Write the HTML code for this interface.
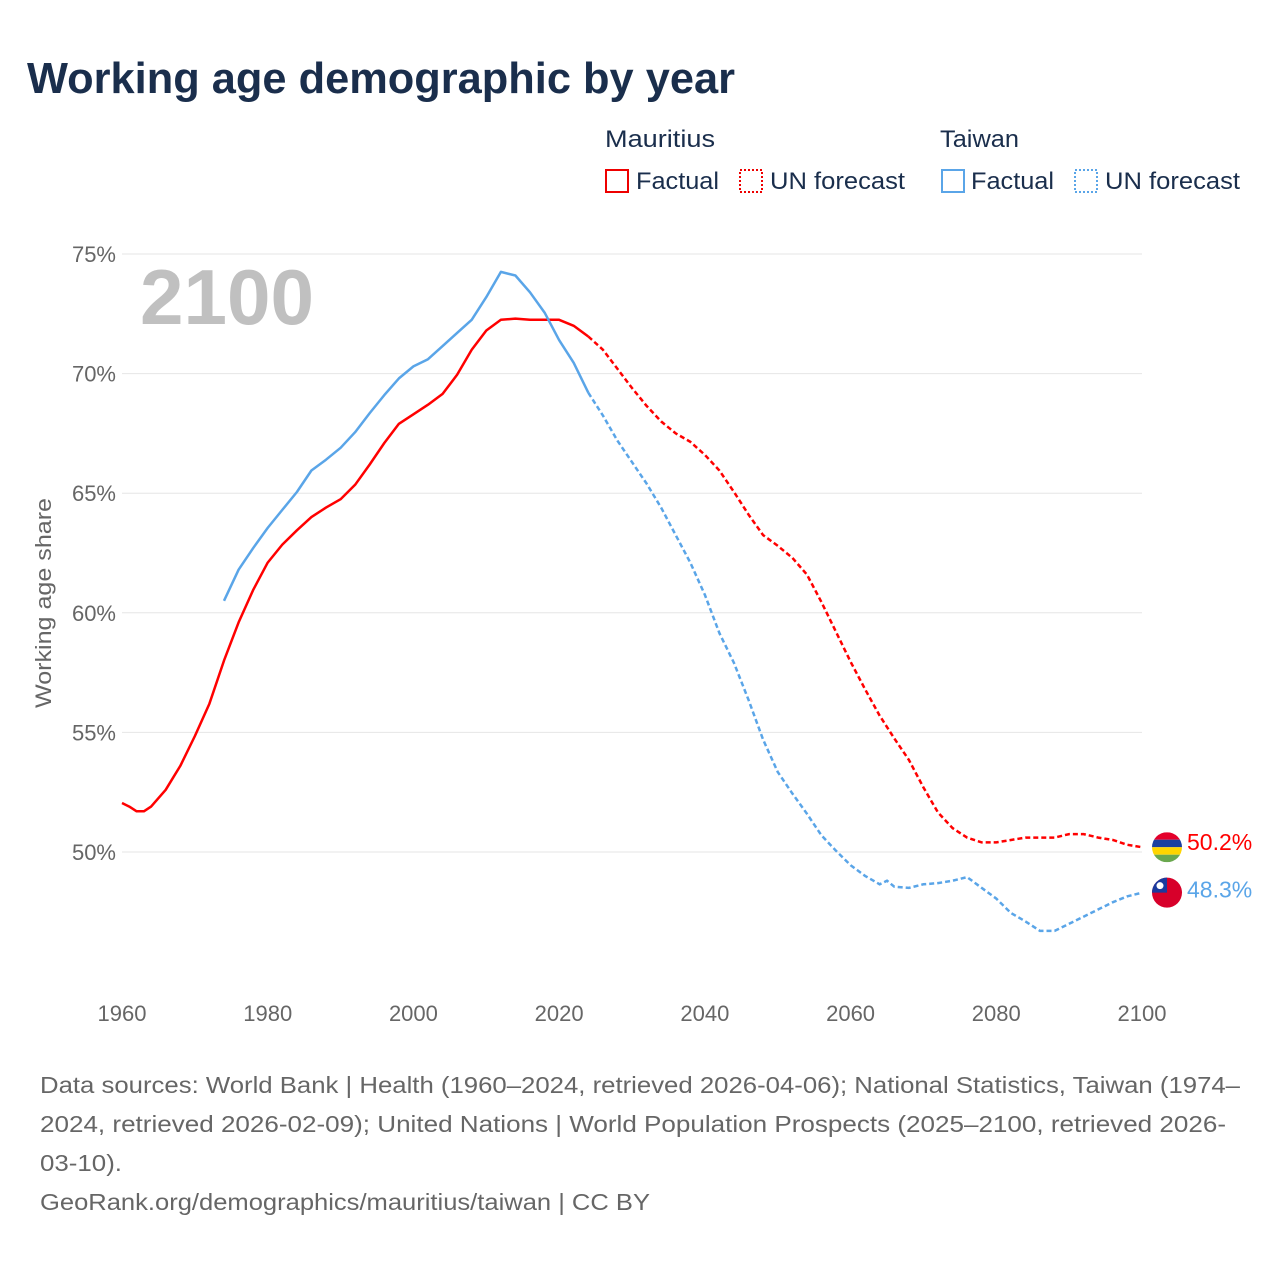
<!DOCTYPE html>
<html><head><meta charset="utf-8">
<style>
body{margin:0;background:#fff;width:1280px;height:1280px;overflow:hidden;font-family:"Liberation Sans",sans-serif;}
svg text{font-family:"Liberation Sans",sans-serif;}
</style></head>
<body>
<svg id="chart" width="1280" height="1280">
<text x="27" y="93" font-size="44" font-weight="bold" fill="#1a2e4c" textLength="708" lengthAdjust="spacingAndGlyphs">Working age demographic by year</text>
<g>
<text x="605" y="147" font-size="24" fill="#1a2e4c" textLength="110" lengthAdjust="spacingAndGlyphs">Mauritius</text>
<text x="940" y="147" font-size="24" fill="#1a2e4c" textLength="79" lengthAdjust="spacingAndGlyphs">Taiwan</text>
<rect x="606" y="170" width="22" height="22" fill="none" stroke="#e00" stroke-width="2"/>
<text x="636" y="189" font-size="24" fill="#1a2e4c" textLength="83" lengthAdjust="spacingAndGlyphs">Factual</text>
<rect x="740" y="170" width="22" height="22" fill="none" stroke="#e00" stroke-width="2" stroke-dasharray="2,2"/>
<text x="770" y="189" font-size="24" fill="#1a2e4c" textLength="135" lengthAdjust="spacingAndGlyphs">UN forecast</text>
<rect x="942" y="170" width="22" height="22" fill="none" stroke="#5aa5e8" stroke-width="2"/>
<text x="971" y="189" font-size="24" fill="#1a2e4c" textLength="83" lengthAdjust="spacingAndGlyphs">Factual</text>
<rect x="1075" y="170" width="22" height="22" fill="none" stroke="#5aa5e8" stroke-width="2" stroke-dasharray="2,2"/>
<text x="1105" y="189" font-size="24" fill="#1a2e4c" textLength="135" lengthAdjust="spacingAndGlyphs">UN forecast</text>
</g>
<text x="140" y="324" font-size="78" font-weight="bold" fill="#c0c0c0" textLength="174" lengthAdjust="spacingAndGlyphs">2100</text>
<text transform="translate(51,603) rotate(-90)" text-anchor="middle" font-size="22" fill="#666" textLength="210" lengthAdjust="spacingAndGlyphs">Working age share</text>
<g id="grid"></g><g id="lines"></g><g id="ends"></g>
<g font-size="23" fill="#666">
<text x="40" y="1093" textLength="1200" lengthAdjust="spacingAndGlyphs">Data sources: World Bank | Health (1960–2024, retrieved 2026-04-06); National Statistics, Taiwan (1974–</text>
<text x="40" y="1132" textLength="1186" lengthAdjust="spacingAndGlyphs">2024, retrieved 2026-02-09); United Nations | World Population Prospects (2025–2100, retrieved 2026-</text>
<text x="40" y="1171" textLength="82" lengthAdjust="spacingAndGlyphs">03-10).</text>
<text x="40" y="1210" textLength="610" lengthAdjust="spacingAndGlyphs">GeoRank.org/demographics/mauritius/taiwan | CC BY</text>
</g>
</svg>
<script>
const yTicks=[50,55,60,65,70,75];
const xTicks=[1960,1980,2000,2020,2040,2060,2080,2100];
const mYears=[1960,1961,1962,1963,1964,1965,1966,1967,1968,1970,1972,1974,1976,1978,1980,1982,1984,1986,1988,1990,1992,1994,1996,1998,2000,2002,2004,2006,2008,2010,2012,2014,2016,2018,2020,2022,2024,2026,2028,2030,2032,2034,2036,2038,2040,2042,2044,2046,2048,2050,2052,2054,2056,2058,2060,2062,2064,2066,2068,2070,2072,2074,2076,2078,2080,2082,2084,2086,2088,2090,2092,2094,2096,2098,2100];
const mValues=[52.05,51.9,51.7,51.7,51.9,52.25,52.6,53.1,53.6,54.85,56.2,58.0,59.6,60.95,62.1,62.85,63.45,64.0,64.4,64.75,65.35,66.2,67.1,67.9,68.3,68.7,69.15,69.95,71.0,71.8,72.25,72.3,72.25,72.25,72.25,72.0,71.55,71.0,70.2,69.4,68.65,68.0,67.5,67.15,66.6,65.95,65.05,64.1,63.25,62.8,62.3,61.6,60.45,59.2,57.95,56.8,55.7,54.75,53.85,52.7,51.65,51.0,50.6,50.4,50.4,50.5,50.6,50.6,50.6,50.75,50.75,50.6,50.5,50.3,50.2];
const tYears=[1974,1976,1978,1980,1982,1984,1986,1988,1990,1992,1994,1996,1998,2000,2002,2004,2006,2008,2010,2012,2014,2016,2018,2020,2022,2024,2026,2028,2030,2032,2034,2036,2038,2040,2042,2044,2046,2048,2050,2052,2054,2056,2058,2060,2062,2064,2065,2066,2068,2070,2072,2074,2076,2078,2080,2082,2084,2086,2088,2090,2092,2094,2096,2098,2100];
const tValues=[60.5,61.8,62.7,63.55,64.3,65.05,65.95,66.4,66.9,67.55,68.35,69.1,69.8,70.3,70.6,71.15,71.7,72.25,73.2,74.25,74.1,73.4,72.55,71.4,70.45,69.2,68.25,67.2,66.3,65.4,64.4,63.25,62.1,60.75,59.15,57.9,56.35,54.7,53.35,52.45,51.6,50.7,50.05,49.45,49.0,48.65,48.8,48.55,48.5,48.65,48.7,48.8,48.95,48.5,48.05,47.45,47.1,46.7,46.7,47.0,47.3,47.6,47.9,48.15,48.3];
const lastFactual=2024;
const NS='http://www.w3.org/2000/svg';
const X=y=>122+(y-1960)*(1020/140);
const Y=v=>852-(v-50)*(598/25);
function mk(tag,attrs,parent){const e=document.createElementNS(NS,tag);for(const k in attrs)e.setAttribute(k,attrs[k]);parent.appendChild(e);return e;}
const grid=document.getElementById('grid');
yTicks.forEach(t=>{
  const l=mk('line',{x1:122,x2:1142,y1:Y(t),y2:Y(t),stroke:'#e6e6e6','stroke-width':1},grid);
  
  
  const tx=mk('text',{x:116,y:Y(t)+8,'text-anchor':'end','font-size':22,fill:'#666'},grid);
  tx.textContent=t+'%';
  
  
});
xTicks.forEach(t=>{
  const tx=mk('text',{x:X(t),y:1021,'text-anchor':'middle','font-size':22,fill:'#666'},grid);
  tx.textContent=t;
  
  
});
const lines=document.getElementById('lines');
function draw(years,vals,color,name){
  let a=[],b=[];
  years.forEach((y,i)=>{const p=X(y).toFixed(1)+','+Y(vals[i]).toFixed(1);if(y<=lastFactual)a.push(p);if(y>=lastFactual)b.push(p);});
  const f=mk('polyline',{points:a.join(' '),fill:'none',stroke:color,'stroke-width':2.5,'stroke-linejoin':'round'},lines);
  
  
  const d=mk('polyline',{points:b.join(' '),fill:'none',stroke:color,'stroke-width':2.5,'stroke-dasharray':'5,3'},lines);
  
  
}
draw(mYears,mValues,'#f00','mauritius');
draw(tYears,tValues,'#5aa5e8','taiwan');
const ends=document.getElementById('ends');
const mv=mValues[mValues.length-1], tv=tValues[tValues.length-1];
let cy=Y(mv)+0, cx=1167;
const cp=mk('clipPath',{id:'cm'},ends);
mk('circle',{cx:cx,cy:cy,r:15},cp);
const fm=mk('g',{'clip-path':'url(#cm)'},ends);


['#e4002b','#1a3fa0','#ffd500','#6aa84f'].forEach((c,i)=>mk('rect',{x:cx-15,y:cy-15+i*7.5,width:30,height:7.5,fill:c},fm));
const ml=mk('text',{x:1187,y:Y(mv)+3,'font-size':23,fill:'#f00'},ends);
ml.textContent=mv.toFixed(1)+'%';


let cy2=Y(tv)+0;
const ft=mk('g',{},ends);


mk('circle',{cx:cx,cy:cy2,r:15,fill:'#d7002a'},ft);
mk('path',{d:`M${cx-15} ${cy2} A15 15 0 0 1 ${cx} ${cy2-15} L${cx} ${cy2} Z`,fill:'#1a3a9e'},ft);
mk('circle',{cx:cx-7,cy:cy2-7,r:3.5,fill:'#fff'},ft);
const tl=mk('text',{x:1187,y:Y(tv)+5,'font-size':23,fill:'#5aa5e8'},ends);
tl.textContent=tv.toFixed(1)+'%';


</script>
</body></html>
